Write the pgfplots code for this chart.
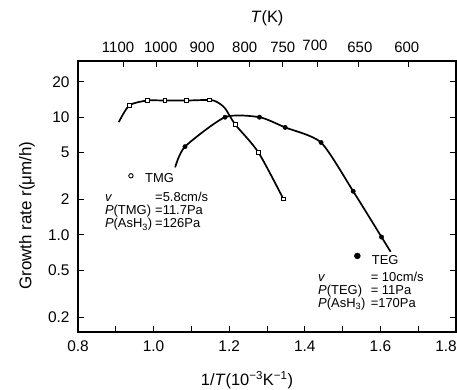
\documentclass[border=0pt]{standalone}
\usepackage{pgfplots}
\pgfplotsset{compat=1.18}
\usepackage{fontspec}
\setmainfont{Liberation Sans}
\begin{document}
\begin{tikzpicture}
\begin{axis}[name=ax,
  scale only axis, width=378bp, height=271bp,
  xmin=0.8, xmax=1.8, ymode=log, ymin=0.15, ymax=30,
  tick align=inside, major tick length=6bp, minor tick length=6bp,
  tick style={line width=1pt, black},
  x tick label style={font=\fontsize{15.5}{17}\selectfont, yshift=-5bp},
  y tick label style={font=\fontsize{15.5}{17}\selectfont, xshift=-5bp},
  axis line style={line width=1.3pt},
  xtick={0.8,1.0,1.2,1.4,1.6,1.8},
  xticklabels={0.8,1.0,1.2,1.4,1.6,\hspace*{-20bp}1.8},
  minor xtick={0.9,1.1,1.3,1.5,1.7},
  ytick={0.2,0.5,1,2,5,10,20},
  yticklabels={0.2,0.5,1.0,2,5,10,20},
  minor ytick={},
  xtick pos=left, ytick pos=both, yticklabel pos=left,
  xlabel={1/\textit{T}(10\textsuperscript{−3}K\textsuperscript{−1})},
  xlabel style={font=\fontsize{16.5}{18}\selectfont, at={(axis description cs:0.447,0)}, anchor=center, yshift=-48bp},
  ylabel={Growth rate r(μm/h)},
  ylabel style={font=\fontsize{17}{19}\selectfont, at={(axis description cs:0,0.43)}, anchor=center, yshift=51bp},
]
% TMG curve
\addplot[black, line width=1.7pt, smooth, tension=0.45] coordinates {
  (0.908,9.1) (0.936,12.6) (0.983,13.85) (1.030,13.85) (1.086,13.85)
  (1.147,14.0) (1.167,13.5) (1.189,11.9) (1.216,8.67) (1.277,5.04) (1.343,2.03)
};
\addplot[only marks, mark=square*, mark size=1.8bp, mark options={fill=white, draw=black, line width=0.8pt}] coordinates {
  (0.936,12.6) (0.983,13.85) (1.030,13.85) (1.086,13.85) (1.147,14.0)
  (1.216,8.67) (1.277,5.04) (1.343,2.03)
};
% TEG curve
\addplot[black, line width=1.7pt, smooth, tension=0.4] coordinates {
  (1.057,3.75) (1.083,5.62) (1.189,10) (1.280,10) (1.348,8.19)
  (1.443,6.1) (1.528,2.35) (1.603,0.96) (1.627,0.72)
};
\addplot[only marks, mark=*, mark size=2.2bp, mark options={fill=black, draw=black}] coordinates {
  (1.083,5.62) (1.189,10) (1.280,10) (1.348,8.19) (1.443,6.1) (1.528,2.35) (1.603,0.96)
};
% legend symbols
\addplot[only marks, mark=o, mark size=2.2bp, mark options={line width=0.9pt}] coordinates {(0.940,3.18)};
\addplot[only marks, mark=*, mark size=3bp] coordinates {(1.539,0.664)};
% legend texts
\begin{scope}[every node/.style={font=\fontsize{13}{15}\selectfont, inner sep=0pt, anchor=base west}]
\node at (axis cs:0.977,2.79) {TMG};
\node at (axis cs:0.871,1.94) {\textit{v}};
\node at (axis cs:1.0037,1.94) {=5.8cm/s};
\node at (axis cs:0.871,1.49) {\textit{P}(TMG)};
\node at (axis cs:1.0037,1.49) {=11.7Pa};
\node at (axis cs:0.871,1.146) {\textit{P}(AsH\textsubscript{3})};
\node at (axis cs:1.0037,1.146) {=126Pa};
\node at (axis cs:1.577,0.5625) {TEG};
\node at (axis cs:1.435,0.401) {\textit{v}};
\node at (axis cs:1.574,0.401) {= 10cm/s};
\node at (axis cs:1.435,0.313) {\textit{P}(TEG)};
\node at (axis cs:1.574,0.313) {= 11Pa};
\node at (axis cs:1.435,0.243) {\textit{P}(AsH\textsubscript{3})};
\node at (axis cs:1.574,0.243) {=170Pa};
\end{scope}
\end{axis}
\begin{axis}[
  scale only axis, width=378bp, height=271bp,
  xmin=0.8, xmax=1.8, ymin=0.15, ymax=30,
  tick align=inside, major tick length=6bp,
  tick style={line width=1pt, black},
  x tick label style={font=\fontsize{15}{17}\selectfont, yshift=5bp},
  axis line style={draw=none},
  ytick=\empty,
  xtick={0.920,1.008,1.116,1.255,1.340,1.434,1.542,1.674},
  xticklabels={\hspace*{-10.6bp}1100,\hspace*{8.2bp}1000,\hspace*{9.4bp}900,\hspace*{-10.6bp}800,\hspace*{1.4bp}750,\hspace*{-5.4bp}\raisebox{2bp}{700},\hspace*{2.8bp}650,\hspace*{-3.2bp}600},
  xtick pos=right, xticklabel pos=right,
  xlabel={\textit{T}(K)},
  xlabel style={font=\fontsize{16.5}{18}\selectfont, at={(axis description cs:0.5,1)}, anchor=center, yshift=43bp},
]
\end{axis}
\pgfresetboundingbox
\path ([shift={(-78bp,-58bp)}]ax.south west) rectangle ([shift={(1bp,61bp)}]ax.north east);
\end{tikzpicture}
\end{document}
